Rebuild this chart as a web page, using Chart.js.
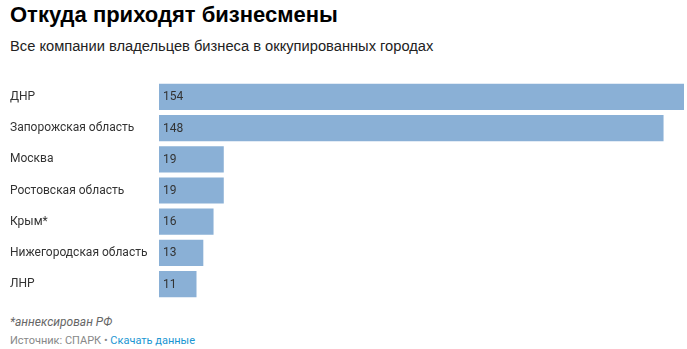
<!DOCTYPE html>
<html><head><meta charset="utf-8">
<script src="https://cdn.jsdelivr.net/npm/chart.js@4"></script>
<style>
html,body{margin:0;padding:0;background:#fff;width:687px;height:349px;overflow:hidden;}
#title{position:absolute;left:10px;top:2px;font:bold 22px "Liberation Sans",Arial,sans-serif;color:#000;}
#sub{position:absolute;left:10px;top:38px;font:14.7px "Liberation Sans",Arial,sans-serif;color:#222;}
#wrap{position:absolute;left:0;top:74px;width:687px;height:233px;}
#note{position:absolute;left:10px;top:315px;font:italic 12px Roboto,sans-serif;color:#666;}
#src{position:absolute;left:10px;top:334px;font:11px Roboto,sans-serif;color:#888;}
#src a{color:#1a96d2;text-decoration:none;}
</style></head><body>
<div id="title">Откуда приходят бизнесмены</div>
<div id="sub">Все компании владельцев бизнеса в оккупированных городах</div>
<div id="wrap"><canvas id="c"></canvas></div>
<div id="note">*аннексирован РФ</div>
<div id="src">Источник: СПАРК • <a>Скачать данные</a></div>
<script>
const categories = ["ДНР","Запорожская область","Москва","Ростовская область","Крым*","Нижегородская область","ЛНР"];
const values = [154,148,19,19,16,13,11];

const valueLabels = {
  id:'valueLabels',
  afterDatasetsDraw(chart){
    const ctx = chart.ctx;
    const meta = chart.getDatasetMeta(0);
    ctx.save();
    ctx.font = '12px Roboto, sans-serif';
    ctx.fillStyle = '#333';
    ctx.textAlign = 'left';
    ctx.textBaseline = 'middle';
    meta.data.forEach((bar,i)=>{
      ctx.fillText(String(values[i]), bar.base + 4, bar.y + 0.5);
    });
    ctx.restore();
  }
};

new Chart(document.getElementById('c'),{
  type:'bar',
  data:{labels:categories,datasets:[{data:values,backgroundColor:'#8ab0d6',borderWidth:0,barPercentage:0.84,categoryPercentage:1}]},
  options:{
    indexAxis:'y',
    responsive:true,maintainAspectRatio:false,animation:false,
    layout:{padding:{left:10,right:3,top:0,bottom:0}},
    plugins:{legend:{display:false},tooltip:{enabled:false}},
    scales:{
      x:{display:false,min:0,max:154},
      y:{
        grid:{display:false},border:{display:false},
        ticks:{crossAlign:'far',color:'#333',font:{family:'Roboto',size:12},padding:0},
        afterFit(s){s.width=149;}
      }
    }
  },
  plugins:[valueLabels]
});
</script>
</body></html>
